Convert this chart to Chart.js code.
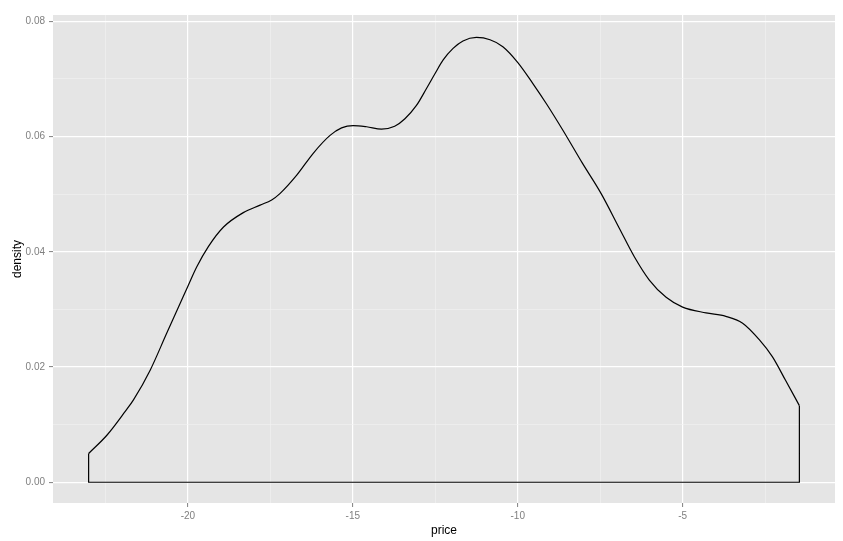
<!DOCTYPE html>
<html>
<head>
<meta charset="utf-8">
<script src="https://cdn.jsdelivr.net/npm/chart.js@4/dist/chart.umd.min.js"></script>
<style>
  html, body { margin: 0; padding: 0; background: #fff; }
  #densityChart { display: block; }
</style>
</head>
<body>
<canvas id="densityChart" width="843" height="541" style="width:843px;height:541px"></canvas>
<script>
// density curve
const priceX = [-23.01, -22.45, -21.90, -21.65, -21.14, -20.64, -20.23, -20.01, -19.73, -19.38,
  -18.92, -18.32, -17.81, -17.46, -17.21, -16.70, -16.20, -15.69, -15.34, -14.99,
  -14.58, -14.13, -13.73, -13.42, -13.07, -12.77, -12.51, -12.26, -11.96, -11.66,
  -11.25, -10.84, -10.45, -9.99, -9.54, -9.13, -8.63, -8.03, -7.47, -6.92,
  -6.46, -6.01, -5.50, -5.00, -4.29, -3.69, -3.18, -2.67, -2.28, -1.88, -1.46];
const densityY = [0.0050, 0.0082, 0.0123, 0.0143, 0.0195, 0.0259, 0.0311, 0.0339, 0.0374, 0.0409,
  0.0443, 0.0468, 0.0481, 0.0490, 0.0501, 0.0533, 0.0571, 0.0602, 0.0615, 0.0619,
  0.0617, 0.0613, 0.0618, 0.0631, 0.0654, 0.0683, 0.0709, 0.0733, 0.0753, 0.0766,
  0.0772, 0.0768, 0.0756, 0.0728, 0.0692, 0.0657, 0.0611, 0.0553, 0.0501, 0.0441,
  0.0391, 0.0351, 0.0321, 0.0304, 0.0294, 0.0288, 0.0276, 0.0247, 0.0218, 0.0177, 0.0133];

// axis ticks (major get labels, minor only grid lines)
const xMajor = [-20, -15, -10, -5];
const xMinor = [-22.5, -17.5, -12.5, -7.5, -2.5];
const yMajor = [0, 0.02, 0.04, 0.06, 0.08];
const yMinor = [0.01, 0.03, 0.05, 0.07];

const curvePts = priceX.map((x, i) => ({ x: x, y: densityY[i] }));
const last = priceX.length - 1;
// closing edges of the density outline: left side, baseline, right side
const edgePts = [
  { x: priceX[0], y: densityY[0] },
  { x: priceX[0], y: 0 },
  { x: priceX[last], y: 0 },
  { x: priceX[last], y: densityY[last] }
];

const isMajor = (list, v) => list.some(m => Math.abs(m - v) < 1e-9);

// grey panel behind the plot
const panelBg = {
  id: 'panelBg',
  beforeDraw(chart) {
    const a = chart.chartArea;
    const c = chart.ctx;
    c.save();
    c.fillStyle = '#E5E5E5';
    c.fillRect(a.left, a.top, a.right - a.left, a.bottom - a.top);
    c.restore();
  }
};

const ctx = document.getElementById('densityChart').getContext('2d');

new Chart(ctx, {
  type: 'scatter',
  data: {
    datasets: [{
      data: curvePts,
      showLine: true,
      borderColor: '#000',
      borderWidth: 1.2,
      pointRadius: 0,
      cubicInterpolationMode: 'monotone',
      fill: false
    }, {
      data: edgePts,
      showLine: true,
      borderColor: '#000',
      borderWidth: 1.2,
      pointRadius: 0,
      tension: 0,
      fill: false
    }]
  },
  plugins: [panelBg],
  options: {
    responsive: false,
    maintainAspectRatio: false,
    animation: false,
    layout: {
      padding: { left: 0, right: 8, top: 15, bottom: 0 }
    },
    scales: {
      x: {
        type: 'linear',
        min: -24.09,
        max: -0.38,
        afterBuildTicks: (s) => { s.ticks = xMinor.concat(xMajor).sort((a, b) => a - b).map(v => ({ value: v })); },
        afterFit: (s) => { s.height = 38; },
        border: { display: false },
        grid: {
          color: (c) => isMajor(xMajor, c.tick.value) ? '#FFFFFF' : '#F2F2F2',
          lineWidth: (c) => isMajor(xMajor, c.tick.value) ? 1.2 : 0.6,
          tickColor: (c) => isMajor(xMajor, c.tick.value) ? '#7F7F7F' : 'rgba(0,0,0,0)',
          tickLength: 4,
          tickWidth: 1
        },
        ticks: {
          autoSkip: false,
          maxRotation: 0,
          padding: 3,
          color: '#7F7F7F',
          font: { family: 'Liberation Sans', size: 10 },
          callback: (v) => isMajor(xMajor, v) ? String(v) : ''
        },
        title: {
          display: true,
          text: 'price',
          color: '#000',
          font: { family: 'Liberation Sans', size: 12 },
          padding: { top: 0, bottom: 3 }
        }
      },
      y: {
        type: 'linear',
        min: -0.0036,
        max: 0.0811,
        afterBuildTicks: (s) => { s.ticks = yMinor.concat(yMajor).sort((a, b) => a - b).map(v => ({ value: v })); },
        afterFit: (s) => { s.width = 53; },
        border: { display: false },
        grid: {
          color: (c) => isMajor(yMajor, c.tick.value) ? '#FFFFFF' : '#F2F2F2',
          lineWidth: (c) => isMajor(yMajor, c.tick.value) ? 1.2 : 0.6,
          tickColor: (c) => isMajor(yMajor, c.tick.value) ? '#7F7F7F' : 'rgba(0,0,0,0)',
          tickLength: 4,
          tickWidth: 1
        },
        ticks: {
          autoSkip: false,
          padding: 4,
          color: '#7F7F7F',
          font: { family: 'Liberation Sans', size: 10 },
          callback: (v) => isMajor(yMajor, v) ? v.toFixed(2) : ''
        },
        title: {
          display: true,
          text: 'density',
          color: '#000',
          font: { family: 'Liberation Sans', size: 12 },
          padding: { top: 10, bottom: 0 }
        }
      }
    },
    plugins: {
      legend: { display: false },
      tooltip: { enabled: false }
    }
  }
});
</script>
</body>
</html>
